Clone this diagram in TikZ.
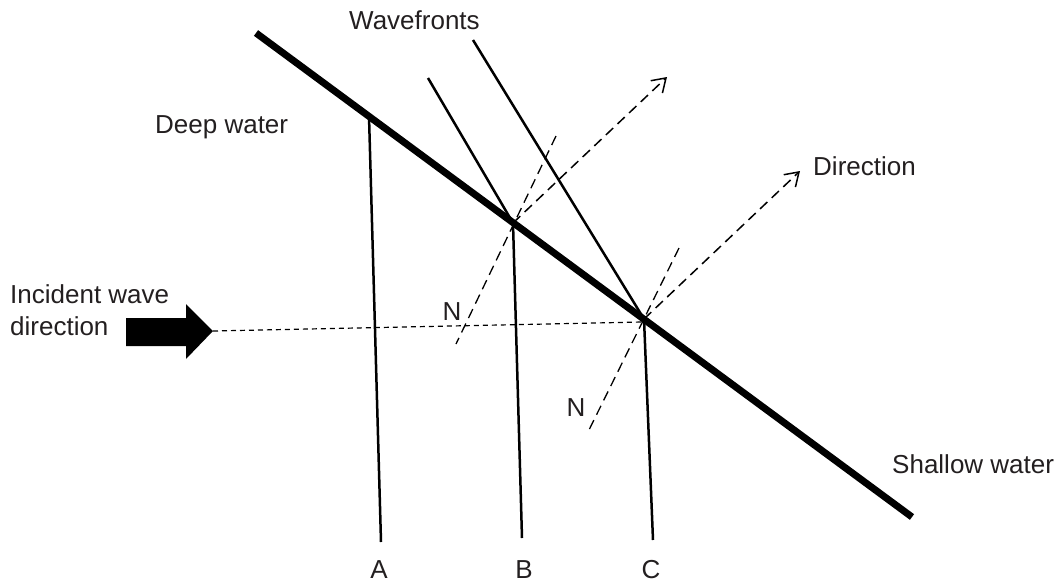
\documentclass[tikz,border=0pt]{standalone}
\usepackage{fontspec}
\setmainfont{Liberation Sans}
\usetikzlibrary{arrows.meta}
\definecolor{txt}{RGB}{35,31,32}
\begin{document}
\begin{tikzpicture}[x=1pt,y=-1pt,
  lbl/.style={font=\fontsize{26}{30}\selectfont, text=txt, inner sep=0pt},
  shore/.style={line width=7pt},
  front/.style={line width=2.5pt},
  ray/.style={line width=1.5pt, dash pattern=on 10pt off 6pt},
  normalline/.style={line width=1.3pt, dash pattern=on 10pt off 6pt},
  incident/.style={line width=1.2pt, dash pattern=on 5pt off 4pt},
  dirtip/.style={-{Straight Barb[length=13pt,width=17pt,line width=1.5pt]}}]
\useasboundingbox (0,0) rectangle (1060,584);
% key points
\coordinate (S1) at (256,33);
\coordinate (S2) at (912,517);
\coordinate (PA) at (369,116);
\coordinate (PB) at (513,223);
\coordinate (PC) at (644,319);
\coordinate (A2) at (381,542);
\coordinate (B2) at (522,538);
\coordinate (C2) at (653,540);
\coordinate (F1) at (428,78);
\coordinate (F2) at (473,40);
\coordinate (D1) at (667,77);
\coordinate (D2) at (800,171);
\coordinate (N1a) at (556,136);
\coordinate (N1b) at (456,344);
\coordinate (N2a) at (679,248);
\coordinate (N2b) at (587,434);
\coordinate (T) at (213,331);
\coordinate (Iend) at (642,322);
% boundary
\draw[shore] (S1) -- (S2);
% wavefronts
\draw[front] (PA) -- (A2);
\draw[front] (F1) -- (PB) -- (B2);
\draw[front] (F2) -- (PC) -- (C2);
% directions
\draw[ray, dirtip] (PB) -- (D1);
\draw[ray, dirtip] (PC) -- (D2);
% normals
\draw[normalline] (N1a) -- (N1b);
\draw[normalline] (N2a) -- (N2b);
% incident line
\draw[incident] (T) -- (Iend);
% big arrow
\fill[black] (126,318) -- (186,318) -- (186,304) -- (T) -- (186,359) -- (186,346) -- (126,346) -- cycle;
% labels
\node[lbl, anchor=base west] (wf) at (349,29) {Wavefronts};
\node[lbl, anchor=base west] (dw) at (155,133) {Deep water};
\node[lbl, anchor=base west] (iw1) at (10,303) {Incident wave};
\node[lbl, anchor=base west] (iw2) at (10,335) {direction};
\node[lbl, anchor=base west] (dir) at (813,175) {Direction};
\node[lbl, anchor=base west] (sw) at (892,473) {Shallow water};
\node[lbl] (n1) at (452,312) {N};
\node[lbl] (n2) at (576,408) {N};
\node[lbl, anchor=base] (la) at (379,578) {A};
\node[lbl, anchor=base] (lb) at (524,578) {B};
\node[lbl, anchor=base] (lc) at (651,578) {C};
\end{tikzpicture}
\end{document}
